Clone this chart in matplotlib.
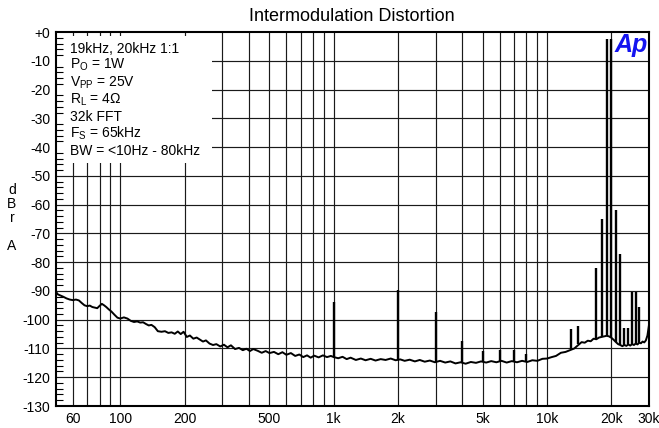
import numpy as np
import matplotlib
matplotlib.use("Agg")
import matplotlib.pyplot as plt
from matplotlib.patches import Rectangle

plt.rcParams['font.family'] = ['Liberation Sans', 'DejaVu Sans']
plt.rcParams['mathtext.fontset'] = 'custom'
plt.rcParams['mathtext.rm'] = 'Liberation Sans'

# noise floor of the FFT trace (Hz, dBrA)
floor_freq = [50, 51, 52.5, 54, 56, 58, 60, 62, 64, 66, 68, 70, 72, 74, 76, 78, 80, 82, 84, 86,
              88, 91, 94, 97, 100, 104, 108, 112, 116, 120, 124, 128, 132, 136, 140, 145, 150,
              156, 162, 168, 174, 180, 186, 192, 198, 205, 212, 220, 228, 236, 244, 252, 262,
              272, 282, 294, 306, 318, 330, 345, 360, 375, 390, 405, 420, 440, 460, 480, 500,
              525, 550, 575, 600, 630, 660, 690, 720, 750, 780, 810, 850, 890, 930, 970, 1000,
              1050, 1100, 1150, 1200, 1270, 1340, 1410, 1490, 1570, 1660, 1750, 1850, 1950,
              2050, 2150, 2270, 2400, 2530, 2670, 2820, 2980, 3150, 3330, 3520, 3720, 3930,
              4150, 4390, 4640, 4900, 5180, 5470, 5780, 6110, 6460, 6830, 7220, 7630, 8060,
              8520, 9000, 9500, 10000, 10500, 11000, 11600, 12200, 12800, 13400, 13900, 14500,
              15000, 15500, 16000, 16500, 17000, 17500, 18000, 18500, 19000, 19500, 20000,
              20500, 21000, 21500, 22000, 22500, 23000, 23500, 24000, 24500, 25000, 25500,
              26000, 26500, 27000, 27500, 28000, 28500, 29000, 29500, 30000]
floor_db = [-90.3, -91.2, -91.6, -92.0, -92.6, -93.0, -93.2, -93.0, -93.3, -94.2, -95.0, -95.3,
            -95.1, -95.6, -95.8, -96.0, -95.2, -94.5, -95.0, -95.6, -96.3, -97.2, -98.3, -99.3,
            -99.6, -99.2, -99.6, -100.4, -100.8, -100.6, -101.0, -100.9, -101.5, -102.0,
            -101.8, -102.6, -104.0, -104.2, -104.0, -104.6, -104.4, -104.9, -104.1, -105.0,
            -104.2, -106.0, -105.5, -106.6, -106.2, -106.9, -107.6, -107.2, -108.3, -108.8,
            -108.5, -109.3, -108.7, -109.6, -108.9, -110.2, -109.8, -110.6, -110.1, -110.9,
            -110.2, -110.8, -111.5, -110.9, -111.6, -111.2, -112.0, -111.3, -112.2, -111.6,
            -112.6, -112.1, -113.0, -112.4, -113.2, -112.5, -113.1, -112.4, -113.0, -112.6,
            -113.0, -113.4, -112.9, -113.7, -113.2, -114.0, -113.5, -114.1, -113.6, -114.2,
            -113.7, -114.0, -113.5, -114.1, -113.8, -114.3, -113.9, -114.5, -114.0, -114.6,
            -114.2, -114.8, -114.3, -114.9, -114.5, -115.2, -114.8, -115.3, -114.7, -115.0,
            -114.5, -114.9, -114.4, -114.8, -114.3, -114.9, -114.4, -114.8, -114.3, -114.7,
            -114.1, -114.3, -113.6, -113.5, -113.0, -112.6, -111.5, -111.2, -110.6, -110.0,
            -109.0, -107.8, -108.0, -107.3, -107.5, -106.6, -106.8, -106.2, -106.0, -105.8,
            -105.6, -105.8, -106.3, -107.0, -107.8, -108.5, -108.8, -109.2, -108.8, -109.1,
            -108.6, -109.0, -108.5, -108.8, -108.3, -108.6, -108.0, -108.2, -107.6, -107.9,
            -107.2, -105.5, -101.8]

# tones and distortion products
spike_freq = [1000, 2000, 3000, 4000, 5000, 6000, 7000, 8000, 13000, 14000, 17000, 18000,
              19000, 20000, 21000, 22000, 23000, 24000, 25000, 26000, 27000]
spike_top = [-94.0, -89.7, -97.2, -107.4, -111.0, -110.5, -110.6, -112.0, -103.3, -102.2,
             -82.0, -65.0, -2.5, -2.5, -62.0, -77.0, -103.0, -102.8, -90.5, -90.3, -95.7]
spike_base = [-113.0, -113.8, -114.6, -114.8, -114.6, -114.6, -114.6, -114.7, -110.2, -108.3,
              -106.8, -106.0, -105.6, -106.3, -107.8, -108.8, -108.8, -108.6, -108.5, -108.3,
              -108.0]

xtick_vals = [60, 100, 200, 500, 1000, 2000, 5000, 10000, 20000, 30000]
xtick_labels = ['60', '100', '200', '500', '1k', '2k', '5k', '10k', '20k', '30k']
ytick_vals = list(range(0, -131, -10))
ytick_labels = ['+0'] + [str(v) for v in ytick_vals[1:]]

info_lines = ['19kHz, 20kHz 1:1',
              r'P$_\mathregular{O}$ = 1W',
              r'V$_\mathregular{PP}$ = 25V',
              r'R$_\mathregular{L}$ = 4Ω',
              '32k FFT',
              r'F$_\mathregular{S}$ = 65kHz',
              'BW = <10Hz - 80kHz']
info_baseline_px = [53, 69, 86.5, 103.5, 121, 138, 155]

W, H = 659, 428
fig = plt.figure(figsize=(W / 100, H / 100), dpi=100)
ax = fig.add_axes([56 / W, 1 - 406 / H, 593 / W, 374 / H])

ax.set_xscale('log')
ax.set_xlim(50, 30000)
ax.set_ylim(-130, 0)

# grid drawn by hand so the notes box can sit on top of it
grid_x = [m * d for d in (10, 100, 1000) for m in range(1, 10)] + [10000, 20000, 30000]
for gx in grid_x:
    if 50 < gx < 30000:
        ax.axvline(gx, color='#1a1a1a', lw=0.85, zorder=1)
for gy in ytick_vals[1:-1]:
    ax.axhline(gy, color='#1a1a1a', lw=0.85, zorder=1)

# white box behind the measurement notes
ax.add_patch(Rectangle((0, (406 - 163) / 374), (212 - 56) / 593, (163 - 36) / 374,
                       transform=ax.transAxes, facecolor='white', edgecolor='none', zorder=1.5))

ax.plot(floor_freq, floor_db, color='black', lw=1.4, zorder=2)
ax.vlines(spike_freq, spike_base, spike_top, color='black', lw=1.7, zorder=2)

ax.set_axisbelow(False)
ax.set_xticks(xtick_vals)
ax.set_xticklabels(xtick_labels)
ax.xaxis.set_minor_locator(plt.NullLocator())
ax.set_yticks(ytick_vals)
ax.set_yticklabels(ytick_labels)
ax.set_yticks(np.arange(-128, 0, 2), minor=True)
ax.tick_params(axis='both', which='major', length=0, labelsize=10, pad=4)
ax.tick_params(axis='y', which='minor', direction='in', length=5, width=0.8)
for s in ax.spines.values():
    s.set_linewidth(1.5)

for line, yb in zip(info_lines, info_baseline_px):
    ax.text((70 - 56) / 593, (406 - yb) / 374, line, transform=ax.transAxes,
            fontsize=10, va='baseline', ha='left', zorder=3)

ax.text((648 - 56) / 593, (406 - 33) / 374, 'Ap', transform=ax.transAxes,
        fontsize=18, fontweight='bold', style='italic', color='#1414f0',
        ha='right', va='top', zorder=3)

fig.text(352 / W, 1 - 16.5 / H, 'Intermodulation Distortion', ha='center', va='center',
         fontsize=13)
fig.text(12 / W, 1 - 218 / H, 'd\nB\nr\n\nA', ha='center', va='center', fontsize=10,
         linespacing=0.98)

fig.savefig('out.png', dpi=100)
